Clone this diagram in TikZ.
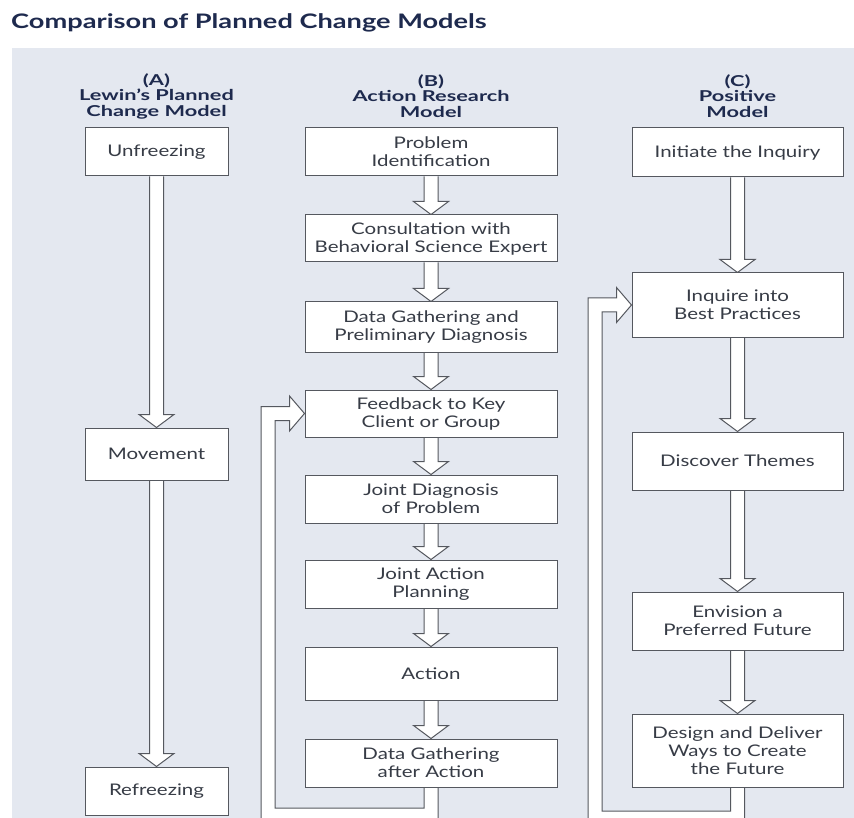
\documentclass[tikz,border=0pt]{standalone}
\usepackage{fontspec}
\setmainfont{Lato}
\newfontfamily\wide[FakeStretch=1.28]{Lato}
\newfontfamily\wideb[FakeStretch=1.45]{Lato}
\newfontfamily\widet[FakeStretch=1.36]{Lato}
\usetikzlibrary{calc}
\definecolor{panel}{RGB}{228,232,240}
\definecolor{edge}{RGB}{85,88,95}
\definecolor{boxtext}{RGB}{55,60,70}
\definecolor{navy}{RGB}{30,42,78}
\pgfdeclarelayer{back}
\pgfdeclarelayer{bg}
\pgfsetlayers{back,bg,main}
\tikzset{
  box/.style={draw=edge, line width=1pt, fill=white, align=center, inner sep=0pt,
    text=boxtext, font=\wide\fontsize{16}{18}\selectfont},
  pipe/.style={draw=edge, line width=1pt, fill=white, line join=miter},
  hdr/.style={text=navy, font=\wideb\bfseries\fontsize{15}{15.5}\selectfont, align=center, inner sep=0pt},
  ttl/.style={text=navy, font=\widet\bfseries\fontsize{20}{24}\selectfont, inner sep=0pt, anchor=west},
}
\newcommand\hollowdown[2]{%
  \begin{pgfonlayer}{bg}
  \draw[pipe] let \p1=(#1.south), \p2=(#2.north) in
    ({\x1-7pt},\y1) -- ({\x1-7pt},{\y2+13pt}) -- ({\x1-17.5pt},{\y2+13pt}) -- (\x1,\y2)
    -- ({\x1+17.5pt},{\y2+13pt}) -- ({\x1+7pt},{\y2+13pt}) -- ({\x1+7pt},\y1);
  \end{pgfonlayer}}
% #1 source box, #2 target box, #3 corner coordinate of the loop
\newcommand\hollowloop[3]{%
  \begin{pgfonlayer}{bg}
  \draw[pipe] let \p1=(#1.south), \p2=(#2.west), \p3=(#3) in
    ({\x1+7pt},\y1) -- ({\x1+7pt},{\y3-7pt}) -- ({\x3-7pt},{\y3-7pt}) -- ({\x3-7pt},{\y2+7pt})
    -- ({\x2-15pt},{\y2+7pt}) -- ({\x2-15pt},{\y2+17.5pt}) -- (\x2,\y2)
    -- ({\x2-15pt},{\y2-17.5pt}) -- ({\x2-15pt},{\y2-7pt}) -- ({\x3+7pt},{\y2-7pt})
    -- ({\x3+7pt},{\y3+7pt}) -- ({\x1-7pt},{\y3+7pt}) -- ({\x1-7pt},\y1);
  \end{pgfonlayer}}
\begin{document}
\begin{tikzpicture}[x=1pt,y=-1pt]
\useasboundingbox (0,0) rectangle (854,818);
\clip (0,0) rectangle (854,818);
\begin{pgfonlayer}{back}
\fill[white] (0,0) rectangle (854,818);
\fill[panel] (12,48) rectangle (860,830);
\end{pgfonlayer}

\node[ttl] (title) at (11,23) {Comparison of Planned Change Models};

\node[hdr] (ha) at (156.5,96) {(A)\\Lewin’s Planned\\Change Model};
\node[hdr] (hb) at (431,96) {(B)\\Action Research\\Model};
\node[hdr] (hc) at (737.5,96) {(C)\\Positive\\Model};

% Column A
\node[box, minimum width=143pt, minimum height=48pt] (a1) at (156.5,152) {Unfreezing};
\node[box, minimum width=143pt, minimum height=52pt] (a2) at (156.5,454) {Movement};
\node[box, minimum width=143pt, minimum height=48pt] (a3) at (156.5,791) {Refreezing};

% Column B
\node[box, minimum width=252pt, minimum height=48pt] (b1) at (431,152) {Problem\\Identification};
\node[box, minimum width=252pt, minimum height=47pt] (b2) at (431,238.5) {Consultation with\\Behavioral Science Expert};
\node[box, minimum width=252pt, minimum height=50pt] (b3) at (431,327) {Data Gathering and\\Preliminary Diagnosis};
\node[box, minimum width=252pt, minimum height=47pt] (b4) at (431,413.5) {Feedback to Key\\Client or Group};
\node[box, minimum width=252pt, minimum height=48pt] (b5) at (431,499) {Joint Diagnosis\\of Problem};
\node[box, minimum width=252pt, minimum height=48pt] (b6) at (431,584) {Joint Action\\Planning};
\node[box, minimum width=252pt, minimum height=53pt] (b7) at (431,673.5) {Action};
\node[box, minimum width=252pt, minimum height=48pt] (b8) at (431,763) {Data Gathering\\after Action};

% Column C
\node[box, minimum width=211pt, minimum height=49pt] (c1) at (737.5,152.5) {Initiate the Inquiry};
\node[box, minimum width=211pt, minimum height=64pt] (c2) at (737.5,305) {Inquire into\\Best Practices};
\node[box, minimum width=211pt, minimum height=58pt] (c3) at (737.5,461) {Discover Themes};
\node[box, minimum width=211pt, minimum height=58pt] (c4) at (737.5,621) {Envision a\\Preferred Future};
\node[box, minimum width=211pt, minimum height=73pt] (c5) at (737.5,750.5) {Design and Deliver\\Ways to Create\\the Future};

\coordinate (bl) at (268,815);
\coordinate (cl) at (595,818);

\hollowdown{a1}{a2}
\hollowdown{a2}{a3}
\hollowdown{b1}{b2}
\hollowdown{b2}{b3}
\hollowdown{b3}{b4}
\hollowdown{b4}{b5}
\hollowdown{b5}{b6}
\hollowdown{b6}{b7}
\hollowdown{b7}{b8}
\hollowdown{c1}{c2}
\hollowdown{c2}{c3}
\hollowdown{c3}{c4}
\hollowdown{c4}{c5}
\hollowloop{b8}{b4}{bl}
\hollowloop{c5}{c2}{cl}
\end{tikzpicture}
\end{document}
